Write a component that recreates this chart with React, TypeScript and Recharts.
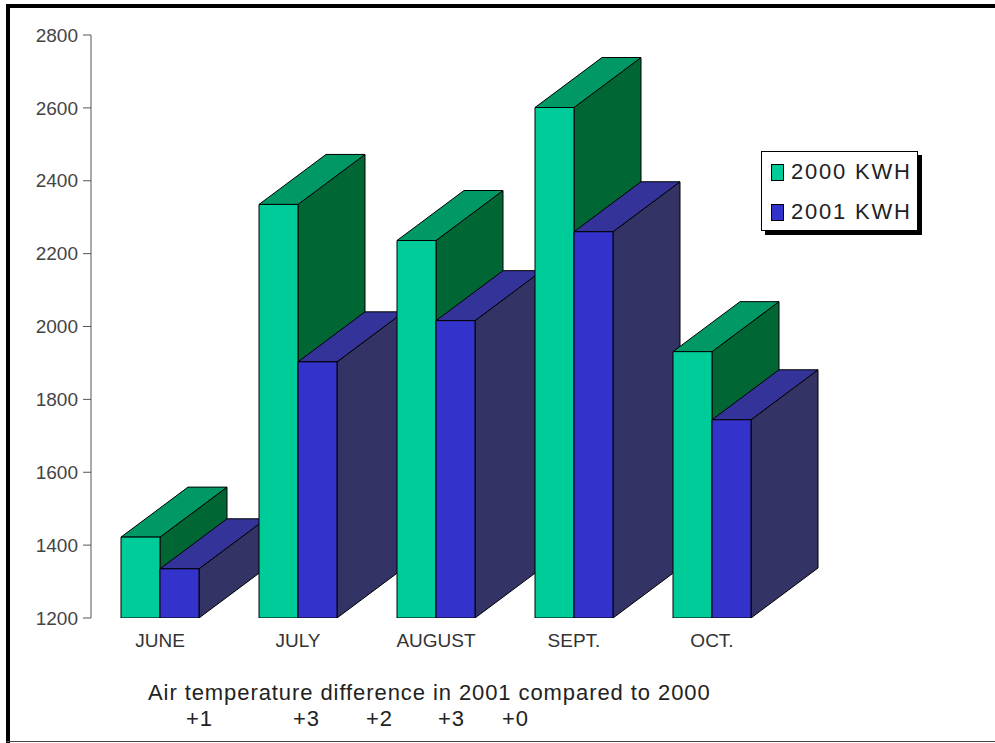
import { BarChart, Bar, XAxis, YAxis, Legend } from "recharts";

const months = ["JUNE", "JULY", "AUGUST", "SEPT.", "OCT."];
const kwh2000 = [1422, 2335, 2236, 2601, 1931];
const kwh2001 = [1335, 1903, 2016, 2260, 1744];
const yTicks = [1200, 1400, 1600, 1800, 2000, 2200, 2400, 2600, 2800];
const tempDiffs = ["+1", "+3", "+2", "+3", "+0"];
const tempLeft = [186, 293, 366, 438, 502];

// one Bar per month and year, so they paint left to right and overlap like the 3d original
const rows = months.map((month, i) => {
  const row: Record<string, string | number> = { month };
  row["a" + i] = kwh2000[i];
  row["b" + i] = kwh2001[i];
  return row;
});

const DX = 67;
const DY = 50;

const colors2000 = { front: "#00cc99", top: "#009966", side: "#006633" };
const colors2001 = { front: "#3333cc", top: "#333399", side: "#333366" };

const Bar3D = (props: any) => {
  const { x, y, width, height, colors } = props;
  if (!height || height <= 0) return null;
  const r = x + width;
  const b = y + height;
  return (
    <g stroke="#000" strokeWidth={1} strokeLinejoin="round">
      <polygon points={`${r},${y} ${r + DX},${y - DY} ${r + DX},${b - DY} ${r},${b}`} fill={colors.side} />
      <polygon points={`${x},${y} ${x + DX},${y - DY} ${r + DX},${y - DY} ${r},${y}`} fill={colors.top} />
      <rect x={x} y={y} width={width} height={height} fill={colors.front} />
    </g>
  );
};

const LegendBox = () => (
  <div
    style={{
      width: 157,
      height: 80,
      boxSizing: "border-box",
      background: "#fff",
      border: "1px solid #000",
      boxShadow: "4px 4px 0 #000",
      fontFamily: "Liberation Sans",
      fontSize: 22,
      color: "#222",
      letterSpacing: 1.8,
    }}
  >
    {[
      { name: "2000 KWH", color: colors2000.front },
      { name: "2001 KWH", color: colors2001.front },
    ].map((item) => (
      <div key={item.name} style={{ display: "flex", alignItems: "center", height: 40, paddingLeft: 9 }}>
        <span style={{ width: 11, height: 15, background: item.color, border: "1px solid #000", marginRight: 7 }} />
        {item.name}
      </div>
    ))}
  </div>
);

export default function App() {
  return (
    <div
      style={{
        position: "absolute",
        left: 0,
        top: 0,
        width: 995,
        height: 743,
        background: "#fff",
        fontFamily: "Liberation Sans",
      }}
    >
      <BarChart
        width={995}
        height={743}
        data={rows}
        barCategoryGap={30}
        barGap={0}
        margin={{ top: 35, right: 214, bottom: 15, left: 0 }}
        style={{ position: "absolute", left: 0, top: 0 }}
      >
        <XAxis
          dataKey="month"
          axisLine={false}
          tickLine={false}
          tickMargin={10}
          tick={{ fontSize: 19, fill: "#333" }}
        />
        <YAxis
          width={91}
          domain={[1200, 2800]}
          ticks={yTicks}
          allowDataOverflow
          tickSize={8}
          tickMargin={5}
          stroke="#555"
          tick={{ fontSize: 19, fill: "#444" }}
        />
        <Legend
          content={() => <LegendBox />}
          layout="vertical"
          wrapperStyle={{ left: 761, top: 151, width: 157 }}
        />
        {months.flatMap((_, i) => [
          <Bar
            key={"a" + i}
            dataKey={"a" + i}
            stackId="2000"
            legendType="none"
            isAnimationActive={false}
            shape={(p: any) => <Bar3D {...p} colors={colors2000} />}
          />,
          <Bar
            key={"b" + i}
            dataKey={"b" + i}
            stackId="2001"
            legendType="none"
            isAnimationActive={false}
            shape={(p: any) => <Bar3D {...p} colors={colors2001} />}
          />,
        ])}
      </BarChart>

      <div style={{ position: "absolute", left: 6, top: 4, width: 989, height: 4, background: "#000" }} />
      <div style={{ position: "absolute", left: 6, top: 4, width: 4, height: 739, background: "#000" }} />
      <div style={{ position: "absolute", left: 6, top: 741, width: 989, height: 1, background: "#444" }} />

      <div style={{ position: "absolute", left: 148, top: 680, fontSize: 22, letterSpacing: 0.92, lineHeight: "25px", color: "#222", whiteSpace: "nowrap" }}>
        Air temperature difference in 2001 compared to 2000
      </div>
      {tempDiffs.map((d, i) => (
        <div key={i} style={{ position: "absolute", left: tempLeft[i], top: 706, fontSize: 22, letterSpacing: 0.92, lineHeight: "25px", color: "#222" }}>
          {d}
        </div>
      ))}
    </div>
  );
}
